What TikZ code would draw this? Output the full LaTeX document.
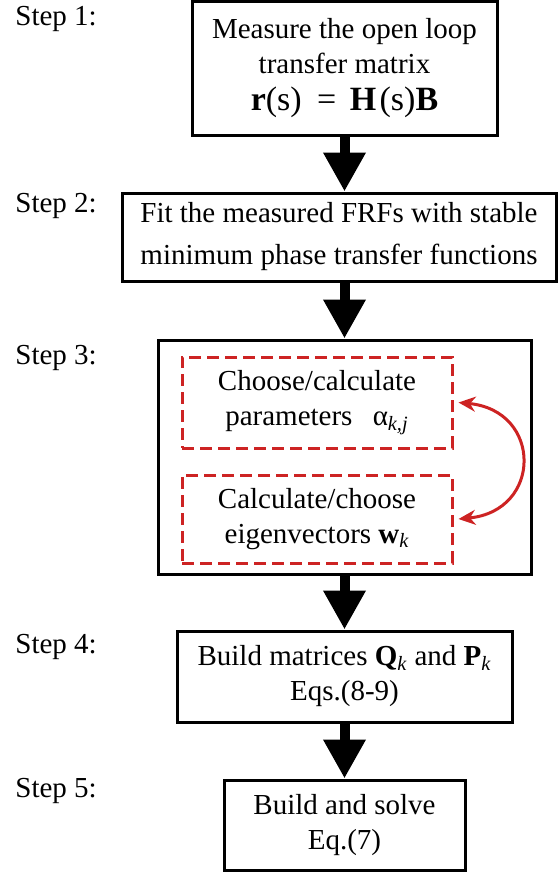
\documentclass[tikz,border=0pt]{standalone}
\usepackage{fontspec}
\setmainfont{Liberation Serif}
\usetikzlibrary{arrows.meta}
\definecolor{flowred}{RGB}{205,35,35}

\begin{document}
\begin{tikzpicture}[x=0.5pt,y=-0.5pt,
  txt/.style={font=\fontsize{14.5}{17.5}\selectfont},
  box/.style={txt, draw=black, line width=1.5pt, align=center, inner sep=0pt},
  dbox/.style={txt, draw=flowred, line width=1.5pt, dash pattern=on 6pt off 3pt, align=center, inner sep=0pt},
  steplabel/.style={txt, anchor=base west, inner sep=0pt},
  flow/.style={line width=5pt, -{Triangle[width=20pt,length=19.5pt]}},
  loopback/.style={flowred, line width=1.5pt, {Stealth[length=8.5pt,width=7.5pt]}-{Stealth[length=8.5pt,width=7.5pt]}}
]
\useasboundingbox (0,0) rectangle (558,875);

% step labels
\node[steplabel] (s1) at (15,25)  {Step 1:};
\node[steplabel] (s2) at (15,212) {Step 2:};
\node[steplabel] (s3) at (15,364) {Step 3:};
\node[steplabel] (s4) at (15,653) {Step 4:};
\node[steplabel] (s5) at (15,797) {Step 5:};

% process boxes
\node[box, minimum width=152.5pt, minimum height=67pt] (b1) at (344.5,68)
  {Measure the open loop\\ transfer matrix\\[1pt]
   {\fontsize{17}{18.5}\selectfont\textbf{r}(s)\hspace{0.45em}=\hspace{0.4em}\textbf{H}\hspace{0.1em}(s)\textbf{B}}};
\node[box, minimum width=217pt, minimum height=44pt, font=\fontsize{14.5}{21}\selectfont] (b2) at (339,237)
  {Fit the measured FRFs with stable\\ minimum phase transfer functions};
\node[box, minimum width=186.5pt, minimum height=117pt] (b3) at (344.5,457) {};
\node[dbox, minimum width=135pt, minimum height=45.5pt] (d1) at (317,402.5)
  {Choose/calculate\\ parameters\hspace{0.45em} α\textsubscript{\itshape k,j}};
\node[dbox, minimum width=135pt, minimum height=44pt] (d2) at (317,519)
  {Calculate/choose\\ eigenvectors \textbf{w}\textsubscript{\itshape k}};
\node[box, minimum width=167.5pt, minimum height=45.5pt] (b4) at (344.5,676.5)
  {Build matrices \textbf{Q}\textsubscript{\itshape k} and \textbf{P}\textsubscript{\itshape k}\\ Eqs.(8-9)};
\node[box, minimum width=120.5pt, minimum height=45pt] (b5) at (344.5,825)
  {Build and solve\\ Eq.(7)};

% main flow
\draw[flow] (b1.south) -- (b1.south |- b2.north);
\draw[flow] (b1.south |- b2.south) -- (b1.south |- b3.north);
\draw[flow] (b3.south) -- (b4.north);
\draw[flow] (b4.south) -- (b5.north);

% iteration between the two sub-steps
\draw[loopback] ([xshift=2.5pt]d1.east) .. controls +(84,8) and +(84,-8) .. ([xshift=2.5pt]d2.east);
\end{tikzpicture}
\end{document}
